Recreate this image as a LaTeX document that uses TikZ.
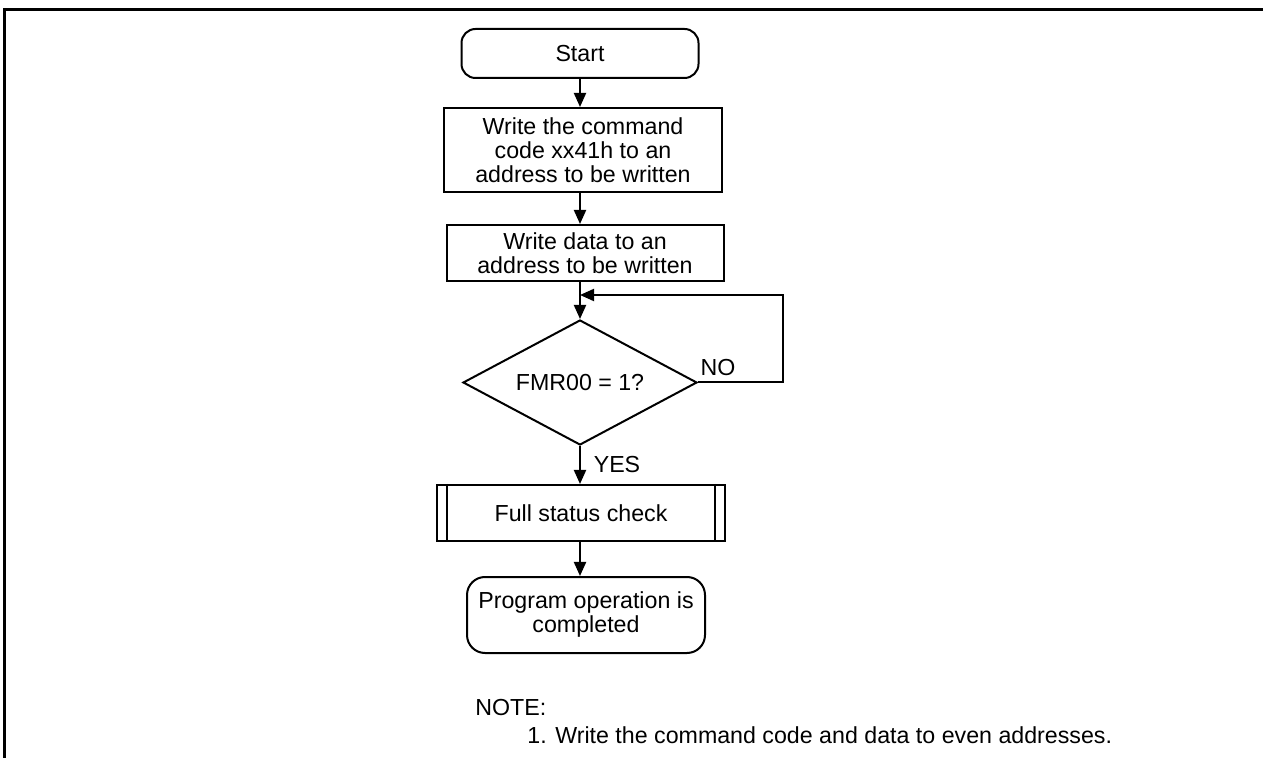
\documentclass[tikz,border=0pt]{standalone}
\usepackage{fontspec}
\setmainfont{Liberation Sans}
\usetikzlibrary{arrows.meta,shapes.geometric}
\newcommand{\flowtext}{\fontsize{11.6}{12}\selectfont}
\tikzset{
  frame/.style ={draw=black, line width=1.5pt},
  flow/.style  ={draw=black, line width=1pt, align=center, inner sep=2pt,
                 font=\flowtext},
  term/.style  ={flow, rounded corners=7pt},
  proc/.style  ={flow},
  dec/.style   ={flow, diamond, aspect=1.87, inner sep=0pt},
  arr/.style   ={-{Triangle[length=7pt, width=6pt]}, draw=black,
                 line width=1pt},
  lbl/.style   ={font=\flowtext, inner sep=0pt}
}
\begin{document}
\begin{tikzpicture}[x=0.5pt, y=-0.5pt]
\useasboundingbox (0,0) rectangle (1263,758);
% frame: only the top and left edges show
\draw[frame] (1263,9.5) -- (4.5,9.5) -- (4.5,758);

\node[term, minimum width=118.5pt, minimum height=24.5pt] (start) at (580,53.5) {Start};
\node[proc, minimum width=139pt, minimum height=42pt] (cmd) at (583,150)
  {Write the command\\code xx41h to an\\address to be written};
\node[proc, minimum width=138.5pt, minimum height=28pt] (data) at (585,253)
  {Write data to an\\address to be written};
\node[dec, minimum width=117pt, minimum height=62.5pt] (poll) at (580,382.5) {FMR00 = 1?};
\node[proc, minimum width=144pt, minimum height=28pt] (chk) at (581,513) {Full status check};
\node[term, rounded corners=9pt, minimum width=119pt, minimum height=38pt] (done) at (586,615)
  {Program operation is\\completed};

\node[lbl] (no)  at (718,368) {NO};
\node[lbl] (yes) at (617,465) {YES};
\node[lbl, anchor=west] (notehd) at (475,708) {NOTE:};
\node[lbl, anchor=west] (note1)  at (527,735)
  {1. Write the command code and data to even addresses.};

% predefined-process bars
\draw[line width=1pt] ([xshift=5.5pt]chk.north west) -- ([xshift=5.5pt]chk.south west);
\draw[line width=1pt] ([xshift=-5.5pt]chk.north east) -- ([xshift=-5.5pt]chk.south east);

% main line stays on the axis of the start node
\draw[arr] (start) -- (start |- cmd.north);
\draw[arr] (cmd.south -| start) -- (data.north -| start);
\draw[arr] (data.south -| start) -- (poll);
\draw[arr] (poll) -- (chk.north -| poll);
\draw[arr] (chk.south -| poll) -- (done.north -| poll);
% NO branch goes back to the poll
\coordinate (back) at (783,295);
\draw[arr] (poll.east) -| (back) -- (back -| poll.north);
\end{tikzpicture}
\end{document}
